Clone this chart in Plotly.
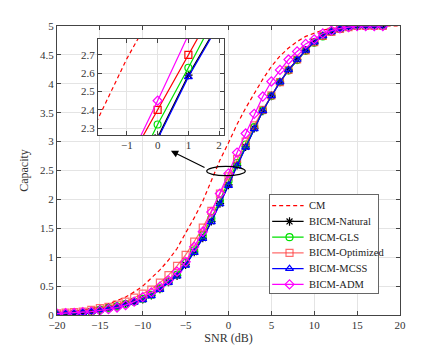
import plotly.graph_objects as go

snr = list(range(-20, 19))
snr_cm = list(range(-20, 21))

cm = [0.04, 0.05, 0.065, 0.085, 0.11, 0.14, 0.19, 0.25, 0.31, 0.40, 0.50, 0.64, 0.78, 0.95, 1.15,
      1.42, 1.68, 1.97, 2.33, 2.68, 2.98, 3.30, 3.58, 3.84, 4.08, 4.30, 4.48, 4.62, 4.73, 4.82,
      4.88, 4.93, 4.96, 4.98, 4.99, 5.0, 5.0, 5.0, 5.0, 5.0, 5.0]
mcss = [0.01, 0.02, 0.03, 0.04, 0.06, 0.09, 0.12, 0.15, 0.19, 0.22, 0.26, 0.33, 0.44, 0.56, 0.67,
        0.86, 1.08, 1.32, 1.61, 1.92, 2.24, 2.58, 2.90, 3.22, 3.53, 3.79, 4.03, 4.24, 4.42, 4.58,
        4.72, 4.83, 4.90, 4.95, 4.98, 5.0, 5.0, 5.0, 5.0]
natural = [0.01, 0.02, 0.03, 0.04, 0.06, 0.09, 0.12, 0.15, 0.19, 0.23, 0.27, 0.34, 0.45, 0.57, 0.68,
           0.87, 1.09, 1.33, 1.62, 1.93, 2.25, 2.59, 2.91, 3.23, 3.53, 3.79, 4.03, 4.24, 4.42, 4.58,
           4.72, 4.83, 4.90, 4.95, 4.98, 5.0, 5.0, 5.0, 5.0]
gls = [0.01, 0.02, 0.03, 0.04, 0.06, 0.09, 0.12, 0.15, 0.19, 0.23, 0.28, 0.35, 0.46, 0.58, 0.70,
       0.90, 1.12, 1.38, 1.67, 1.98, 2.32, 2.63, 2.95, 3.25, 3.54, 3.79, 4.03, 4.23, 4.41, 4.57,
       4.71, 4.82, 4.90, 4.95, 4.98, 5.0, 5.0, 5.0, 5.0]
optimized = [0.03, 0.04, 0.05, 0.06, 0.09, 0.12, 0.14, 0.18, 0.23, 0.30, 0.37, 0.44, 0.56, 0.69, 0.85,
             1.04, 1.27, 1.51, 1.80, 2.10, 2.40, 2.70, 3.00, 3.28, 3.55, 3.80, 4.03, 4.24, 4.42, 4.58,
             4.72, 4.83, 4.90, 4.95, 4.98, 5.0, 5.0, 5.0, 5.0]
adm = [0.025, 0.03, 0.035, 0.05, 0.06, 0.075, 0.10, 0.13, 0.17, 0.23, 0.31, 0.39, 0.49, 0.60, 0.75,
       0.92, 1.18, 1.44, 1.78, 2.10, 2.45, 2.81, 3.14, 3.48, 3.78, 4.04, 4.24, 4.42, 4.56, 4.69,
       4.77, 4.87, 4.92, 4.96, 4.98, 5.0, 5.0, 5.0, 5.0]

font = 'Liberation Serif'
dash_cm = '4px,3px'
fig = go.Figure()

series = [
    ('BICM-Natural', natural, 'black', 'asterisk-open'),
    ('BICM-GLS', gls, '#00e000', 'circle-open'),
    ('BICM-Optimized', optimized, 'rgba(255,60,60,0.75)', 'square-open'),
    ('BICM-MCSS', mcss, '#0000ff', 'triangle-up-open'),
    ('BICM-ADM', adm, '#ff00ff', 'diamond-open'),
]

fig.add_trace(go.Scatter(x=snr_cm, y=cm, name='CM', mode='lines',
                         line=dict(color='red', width=1.2, dash=dash_cm)))
for name, vals, col, sym in series:
    fig.add_trace(go.Scatter(x=snr, y=vals, name=name, mode='lines+markers',
                             line=dict(color=col, width=1.2),
                             marker=dict(symbol=sym, size=7, color=col, line=dict(color=col, width=1.2))))

# inset
fig.add_trace(go.Scatter(x=snr_cm, y=cm, mode='lines',
                         line=dict(color='red', width=1.2, dash=dash_cm), xaxis='x2', yaxis='y2'))
for name, vals, col, sym in series:
    if name == 'BICM-Optimized':
        col = 'red'
    fig.add_trace(go.Scatter(x=snr, y=vals, mode='lines+markers',
                             line=dict(color=col, width=1.2),
                             marker=dict(symbol=sym, size=7, color=col, line=dict(color=col, width=1.2)),
                             xaxis='x2', yaxis='y2'))

# hand-made legend (matlab style, compact rows)
legend_names = ['CM'] + [s[0] for s in series]
legend_cols = ['red'] + [s[2] for s in series]
legend_syms = [None] + [s[3] for s in series]
annots = []
for i, (nm, col, sym) in enumerate(zip(legend_names, legend_cols, legend_syms)):
    row = 8.5 + 12.4 * i
    fig.add_trace(go.Scatter(x=[0.02, 0.31], y=[row, row], mode='lines', xaxis='x3', yaxis='y3',
                             line=dict(color=col, width=1.2, dash=dash_cm if sym is None else 'solid')))
    if sym is not None:
        fig.add_trace(go.Scatter(x=[0.18], y=[row], mode='markers', xaxis='x3', yaxis='y3',
                                 marker=dict(symbol=sym, size=7, color=col, line=dict(color=col, width=1.2))))
    annots.append(dict(x=0.34, y=row, xref='x3', yref='y3', text=nm, showarrow=False,
                       xanchor='left', yanchor='middle',
                       font=dict(family=font, size=10.5, color='#222222')))

ax = dict(showline=True, mirror='ticks', linecolor='#444444', linewidth=1, ticks='inside',
          ticklen=4, tickcolor='#444444', showgrid=True, gridcolor='#e4e4e4', zeroline=False,
          tickfont=dict(family=font, size=11, color='#333333'))

fig.update_layout(
    width=443, height=354,
    margin=dict(l=49, r=51, t=18, b=47),
    plot_bgcolor='white', paper_bgcolor='white',
    showlegend=False,
    font=dict(family=font, size=11, color='#333333'),
    xaxis=dict(range=[-20, 20], dtick=5, title=dict(text='SNR (dB)', standoff=2,
               font=dict(family=font, size=12)), **ax),
    yaxis=dict(range=[0, 5], dtick=0.5, title=dict(text='Capacity', standoff=8,
               font=dict(family=font, size=12)), **ax),
    xaxis2=dict(domain=[0.1195, 0.487], anchor='y2', range=[-1.94, 2.16], dtick=1, **ax),
    yaxis2=dict(domain=[0.623, 0.955], anchor='x2', range=[2.263, 2.787], dtick=0.1, **ax),
    xaxis3=dict(domain=[0.621, 0.937], anchor='y3', range=[0, 1], showgrid=False, zeroline=False,
                showticklabels=False, ticks='', showline=True, mirror=True, linecolor='#666666'),
    yaxis3=dict(domain=[0.076, 0.4155], anchor='x3', range=[77.3, 0], showgrid=False, zeroline=False,
                showticklabels=False, ticks='', showline=True, mirror=True, linecolor='#666666'),
    shapes=[dict(type='circle', xref='x', yref='y', x0=-2.54, x1=1.96, y0=2.41, y1=2.57,
                 line=dict(color='black', width=1.2)),
            dict(type='rect', xref='x2 domain', yref='y2 domain', x0=0, x1=1, y0=0, y1=1,
                 fillcolor='white', line=dict(width=0), layer='below'),
            dict(type='rect', xref='x3 domain', yref='y3 domain', x0=0, x1=1, y0=0, y1=1,
                 fillcolor='white', line=dict(width=0), layer='below')],
    annotations=[dict(x=-6.71, y=2.84, ax=-2.62, ay=2.54, xref='x', yref='y', axref='x', ayref='y',
                      text='', showarrow=True, arrowhead=2, arrowsize=1.2, arrowwidth=1.2,
                      arrowcolor='black')] + annots,
)

fig.write_html('out.html')
